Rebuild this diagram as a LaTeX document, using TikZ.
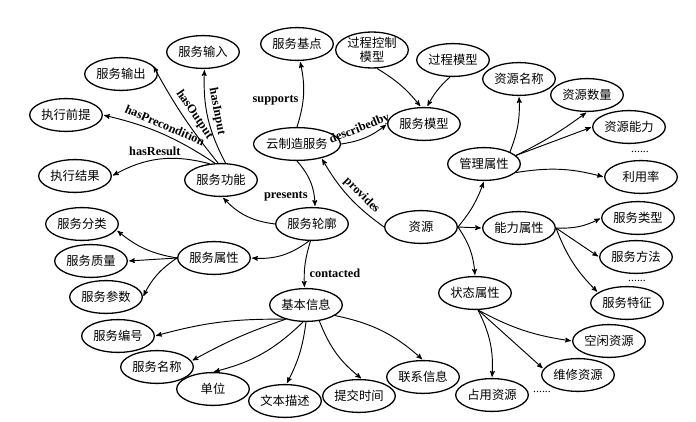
\documentclass[tikz,border=0pt]{standalone}
\usepackage{fontspec}
\setmainfont{Liberation Serif}
\newfontfamily\cjk{Noto Sans CJK SC}
\usepackage{tikz}
\usetikzlibrary{calc,arrows,shapes,positioning}
\tikzset{
    concept/.style={
    ellipse,draw=black,line width=1.1pt,inner sep=0pt,minimum width=62pt,minimum height=28pt,
    align=center,font=\cjk\fontsize{10.5}{12}\selectfont
    },
    rel/.style={
    font=\bfseries\fontsize{10.5}{11}\selectfont,inner sep=3.5pt
    },
    more/.style={
    font=\fontsize{10}{10}\selectfont,inner sep=0pt
    },
}

\begin{document}
\begin{tikzpicture}[x=0.03cm, y=-0.03cm, >=stealth', line width=0.8pt, shorten >=1pt, auto]
   \useasboundingbox (0,0) rectangle (696,422);
   % cloud service and its parts
   \node[concept] (cms) at (297,144) {云制造服务};
   \node[concept] (bd) at (297,44) {服务基点};
   \node[concept] (pcm) at (372,50) {过程控制\\模型};
   \node[concept] (pm) at (453,60) {过程模型};
   \node[concept] (sm) at (424,124) {服务模型};
   \node[concept] (sl) at (312,224) {服务轮廓};
   \node[concept] (sf) at (221,180) {服务功能};
   \node[concept] (in) at (203,52) {服务输入};
   \node[concept] (out) at (121,74) {服务输出};
   \node[concept] (pre) at (66,115) {执行前提};
   \node[concept] (res) at (75,176) {执行结果};
   \node[concept] (sx) at (214,258) {服务属性};
   \node[concept] (fl) at (82,224) {服务分类};
   \node[concept] (zl) at (91,261) {服务质量};
   \node[concept] (cs) at (106,297) {服务参数};
   \node[concept] (jb) at (306,305) {基本信息};
   \node[concept] (bh) at (118,336) {服务编号};
   \node[concept] (mc) at (157,367) {服务名称};
   \node[concept] (dw) at (213,389) {单位};
   \node[concept] (wb) at (285,401) {文本描述};
   \node[concept] (tj) at (359,396) {提交时间};
   \node[concept] (lx) at (423,377) {联系信息};
   % resources
   \node[concept] (zy) at (421,227) {资源};
   \node[concept] (gl) at (484,164) {管理属性};
   \node[concept] (rname) at (519,79) {资源名称};
   \node[concept] (rnum) at (587,95) {资源数量};
   \node[concept] (rcap) at (629,127) {资源能力};
   \node[more] (d1) at (640,152) {......};
   \node[concept] (ly) at (641,177) {利用率};
   \node[concept] (nl) at (519,228) {能力属性};
   \node[concept] (stype) at (638,218) {服务类型};
   \node[concept] (ff) at (636,257) {服务方法};
   \node[more] (d2) at (637,281) {......};
   \node[concept] (tz) at (627,303) {服务特征};
   \node[concept] (zt) at (475,293) {状态属性};
   \node[concept] (kx) at (609,341) {空闲资源};
   \node[concept] (wx) at (578,375) {维修资源};
   \node[concept] (zyy) at (492,395) {占用资源};
   \node[more] (d3) at (542,392) {......};

  \path[->]
    (sf.75) edge[bend left=15] node[rel,sloped,above,pos=0.55] {hasInput} (in.-85)
    (sf.100) edge[bend left=5] node[rel,sloped,above,pos=0.45] {hasOutput} (out.15)
    (sf.110) edge[bend right=10] node[rel,sloped,above] {hasPrecondition} (pre.east)
    (sf.125) edge[bend right=22] node[rel,above,pos=0.55] {hasResult} (res.east);
  \path[->]
    (cms.north) edge[bend right=15] node[rel,left,pos=0.4] {supports} (bd.-80)
    (cms.east) edge[bend right=15] node[rel,sloped,above,pos=0.45] {describedby} (sm.west)
    (pcm.-75) edge[bend left=10] (sm.100)
    (pm.-100) edge[bend right=10] (sm.80)
    (cms.south) edge[bend left=20] node[rel,swap,pos=0.6] {presents} (sl.80)
    (zy.west) edge[bend left=12] node[rel,sloped,above,pos=0.4] {provides} (cms.-30);
  \path[->]
    (sl.west) edge[bend left=20] (sf.-85)
    (sl.-100) edge[bend left=20] (sx.east)
    (sl.-95) edge[bend right=10] node[rel] {contacted} (jb.95)
    (sx.west) edge[bend left=15] (fl.-10)
              edge (zl.east)
              edge[bend right=15] (cs.east);
  \path[->]
    (jb.-145) edge[bend right=8] (bh.east)
              edge[bend right=5] (mc.10)
    (jb.-100) edge[bend left=15] (dw.north)
    (jb.south) edge[bend left=10] (wb.85)
    (jb.-50) edge[bend right=15] (tj.80)
    (jb.-20) edge[bend left=15] (lx.north);
  \path[->]
    (zy.east) edge[bend right=10] (gl.south)
              edge (nl.west)
              edge[bend left=15] (zt.north)
    (gl.25) edge[bend right=12] (rname.south)
    (gl.15) edge[bend right=5] (rnum.south)
            edge (rcap.west)
    (gl.-15) edge[bend left=12] (ly.west)
    (nl.east) edge[bend right=15] (stype.west)
              edge (ff.west)
              edge[bend right=12] (tz.160)
    (zt.-80) edge[bend right=10] (kx.west)
             edge (wx.170)
             edge[bend left=15] (zyy.north);
\end{tikzpicture}
\end{document}
